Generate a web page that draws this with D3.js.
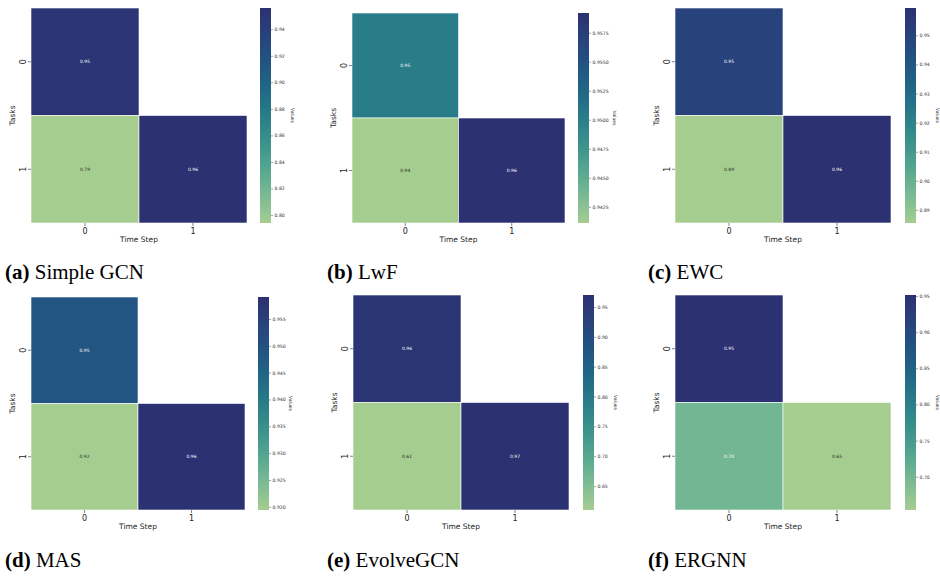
<!DOCTYPE html>
<html>
<head>
<meta charset="utf-8">
<script src="https://cdn.jsdelivr.net/npm/d3@7"></script>
<style>
  body { margin: 0; background: #fff; }
  svg { display: block; }
  .caption { font-family: "Liberation Serif", "Times New Roman", "DejaVu Serif", serif; }
</style>
</head>
<body>
<div id="chart"></div>
<script>
// data: rows = tasks, columns = time steps (null = not evaluated)
var tasks = ["0", "1"];
var timeSteps = ["0", "1"];
var letters = ["a", "b", "c", "d", "e", "f"];
var methods = ["Simple GCN", "LwF", "EWC", "MAS", "EvolveGCN", "ERGNN"];

var simpleGcnValues = [[0.952, null], [0.794, 0.956]];
var lwfValues = [[0.9502, null], [0.9411, 0.9592]];
var ewcValues = [[0.950, null], [0.8855, 0.9594]];
var masValues = [[0.949, null], [0.9194, 0.9591]];
var evolveGcnValues = [[0.960, null], [0.610, 0.970]];
var ergnnValues = [[0.9515, null], [0.700, 0.654]];

var simpleGcnTicks = [0.80, 0.82, 0.84, 0.86, 0.88, 0.90, 0.92, 0.94];
var lwfTicks = [0.9425, 0.9450, 0.9475, 0.9500, 0.9525, 0.9550, 0.9575];
var ewcTicks = [0.89, 0.90, 0.91, 0.92, 0.93, 0.94, 0.95];
var masTicks = [0.920, 0.925, 0.930, 0.935, 0.940, 0.945, 0.950, 0.955];
var evolveGcnTicks = [0.65, 0.70, 0.75, 0.80, 0.85, 0.90, 0.95];
var ergnnTicks = [0.70, 0.75, 0.80, 0.85, 0.90, 0.95];

var allValues = [simpleGcnValues, lwfValues, ewcValues, masValues, evolveGcnValues, ergnnValues];
var allTicks = [simpleGcnTicks, lwfTicks, ewcTicks, masTicks, evolveGcnTicks, ergnnTicks];
var tickFormats = [".2f", ".4f", ".2f", ".3f", ".2f", ".2f"];

// layout of each heatmap box [x0, x1, y0, y1] and colorbar x
var boxes = [
    [31, 247, 8, 223, 260],
    [352, 565, 13, 223, 578],
    [675, 891, 8, 223, 905],
    [31, 245, 297, 510, 258],
    [353, 569, 295, 510, 583],
    [675, 891, 295, 510, 905]
];
var captionY = [279, 279, 279, 567, 567, 567];
var captionX = [5, 327, 648, 5, 327, 648];

// approximation of seaborn "crest"
var crest = d3.interpolateRgbBasis([
    "#a5cd90", "#80bd94", "#5eac91", "#42998d", "#30878a",
    "#237388", "#1f6185", "#235081", "#29407a", "#2c3172"
]);

var width = 940, height = 579;
var svg = d3.select("#chart").append("svg")
    .attr("width", width)
    .attr("height", height);

var defs = svg.append("defs");
var grad = defs.append("linearGradient")
    .attr("id", "crestGrad")
    .attr("x1", 0).attr("y1", 1).attr("x2", 0).attr("y2", 0);
d3.range(0, 1.0001, 0.05).forEach(function (t) {
    grad.append("stop").attr("offset", t).attr("stop-color", crest(t));
});

function textColor(c) {
    var rgb = d3.rgb(c);
    var lin = [rgb.r, rgb.g, rgb.b].map(function (v) {
        v = v / 255;
        return v <= 0.03928 ? v / 12.92 : Math.pow((v + 0.055) / 1.055, 2.4);
    });
    var lum = 0.2126 * lin[0] + 0.7152 * lin[1] + 0.0722 * lin[2];
    return lum > 0.408 ? "#262626" : "#ffffff";
}

function drawPanel(i) {
    var b = boxes[i];
    var values = allValues[i];
    var flat = [];
    values.forEach(function (row, r) {
        row.forEach(function (v, c) {
            if (v !== null) flat.push({row: tasks[r], col: timeSteps[c], value: v});
        });
    });
    var vmin = d3.min(flat, function (d) { return d.value; });
    var vmax = d3.max(flat, function (d) { return d.value; });

    var x = d3.scaleBand().domain(timeSteps).range([b[0], b[1]]);
    var y = d3.scaleBand().domain(tasks).range([b[2], b[3]]);
    var color = d3.scaleSequential(crest).domain([vmin, vmax]);

    var g = svg.append("g");

    g.selectAll("rect.cell")
        .data(flat)
        .enter().append("rect")
        .attr("class", "cell")
        .attr("x", function (d) { return x(d.col); })
        .attr("y", function (d) { return y(d.row); })
        .attr("width", x.bandwidth())
        .attr("height", y.bandwidth())
        .attr("fill", function (d) { return color(d.value); })
        .attr("stroke", "#ffffff")
        .attr("stroke-width", 0.6);

    g.selectAll("text.annot")
        .data(flat)
        .enter().append("text")
        .attr("class", "annot")
        .attr("x", function (d) { return x(d.col) + x.bandwidth() / 2; })
        .attr("y", function (d) { return y(d.row) + y.bandwidth() / 2; })
        .attr("text-anchor", "middle")
        .attr("dominant-baseline", "central")
        .attr("font-family", "DejaVu Sans")
        .attr("font-size", "4.5px")
        .attr("fill", function (d) { return textColor(color(d.value)); })
        .text(function (d) { return d3.format(".2f")(d.value); });

    // x axis
    var xAxis = g.append("g")
        .attr("transform", "translate(0," + b[3] + ")")
        .call(d3.axisBottom(x).tickSize(3).tickSizeOuter(0).tickPadding(2));
    xAxis.select(".domain").remove();
    xAxis.selectAll("line").attr("stroke", "#333").attr("stroke-width", 0.6);
    xAxis.selectAll("text")
        .attr("font-family", "DejaVu Sans")
        .attr("font-size", "8px")
        .attr("fill", "#222");

    // y axis
    var yAxis = g.append("g")
        .attr("transform", "translate(" + b[0] + ",0)")
        .call(d3.axisLeft(y).tickSize(3).tickSizeOuter(0).tickPadding(2));
    yAxis.select(".domain").remove();
    yAxis.selectAll("line").attr("stroke", "#333").attr("stroke-width", 0.6);
    yAxis.selectAll("text")
        .attr("font-family", "DejaVu Sans")
        .attr("font-size", "8px")
        .attr("fill", "#222")
        .attr("text-anchor", "middle")
        .attr("dy", 0)
        .attr("x", -8)
        .attr("transform", function () {
            return "rotate(-90," + (-8) + ",0)";
        })
        .attr("y", 0)
        .attr("dominant-baseline", "central");

    g.append("text")
        .attr("x", (b[0] + b[1]) / 2)
        .attr("y", b[3] + 19)
        .attr("text-anchor", "middle")
        .attr("font-family", "DejaVu Sans")
        .attr("font-size", "7.5px")
        .attr("fill", "#222")
        .text("Time Step");

    g.append("text")
        .attr("transform", "translate(" + (b[0] - 16) + "," + ((b[2] + b[3]) / 2) + ") rotate(-90)")
        .attr("text-anchor", "middle")
        .attr("font-family", "DejaVu Sans")
        .attr("font-size", "7.5px")
        .attr("fill", "#222")
        .text("Tasks");

    // colorbar
    var cbX = b[4], cbW = 11;
    var cbScale = d3.scaleLinear().domain([vmin, vmax]).range([b[3], b[2]]);
    g.append("rect")
        .attr("x", cbX)
        .attr("y", b[2])
        .attr("width", cbW)
        .attr("height", b[3] - b[2])
        .attr("fill", "url(#crestGrad)");

    var cbAxis = g.append("g")
        .attr("transform", "translate(" + (cbX + cbW) + ",0)")
        .call(d3.axisRight(cbScale)
            .tickValues(allTicks[i])
            .tickFormat(d3.format(tickFormats[i]))
            .tickSize(2)
            .tickPadding(1.5));
    cbAxis.select(".domain").remove();
    cbAxis.selectAll("line").attr("stroke", "#444").attr("stroke-width", 0.5);
    cbAxis.selectAll("text")
        .attr("font-family", "DejaVu Sans")
        .attr("font-size", "4.6px")
        .attr("fill", "#333");

    g.append("text")
        .attr("transform", "translate(" + (cbX + cbW + (i === 1 ? 24 : 20)) + "," + ((b[2] + b[3]) / 2) + ") rotate(90)")
        .attr("text-anchor", "middle")
        .attr("font-family", "DejaVu Sans")
        .attr("font-size", "4.6px")
        .attr("fill", "#333")
        .text("Values");

    // caption
    var cap = svg.append("text")
        .attr("class", "caption")
        .attr("x", captionX[i])
        .attr("y", captionY[i])
        .attr("font-size", "21px")
        .attr("fill", "#000");
    cap.append("tspan").attr("font-weight", "bold").text("(" + letters[i] + ")");
    cap.append("tspan").text(" " + methods[i]);
}

for (var i = 0; i < methods.length; i++) {
    drawPanel(i);
}
</script>
</body>
</html>
